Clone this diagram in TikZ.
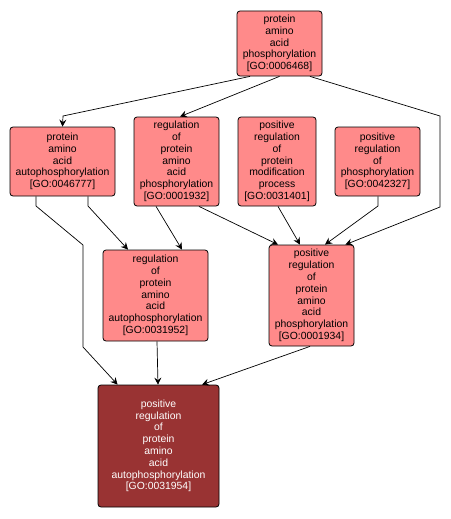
\documentclass[tikz,border=0pt]{standalone}
\usepackage{fontspec}
\setmainfont{Liberation Sans}
\usetikzlibrary{arrows.meta}
\definecolor{lightgo}{HTML}{FF8A8A}
\definecolor{darkgo}{HTML}{993333}
\begin{document}
\begin{tikzpicture}[x=1pt,y=1pt,
  gobox/.style={draw=black, line width=0.8pt, rounded corners=3pt, fill=lightgo,
    align=center, inner sep=0pt, font=\fontsize{10.4}{11.8}\selectfont, text=black},
  darkbox/.style={gobox, fill=darkgo, text=white},
  edge/.style={draw=black, line width=0.7pt, -{Stealth[length=7pt,width=7pt,inset=2.5pt]}}]
\useasboundingbox (0,0) rectangle (450,-519);
\node[gobox, minimum width=85, minimum height=65] (A) at (279.5,-43.5)
  {protein\\amino\\acid\\phosphorylation\\{[}GO:0006468{]}};
\node[gobox, minimum width=105, minimum height=69] (B) at (62.5,-161.5)
  {protein\\amino\\acid\\autophosphorylation\\{[}GO:0046777{]}};
\node[gobox, minimum width=85, minimum height=89] (C) at (176.5,-161.5)
  {regulation\\of\\protein\\amino\\acid\\phosphorylation\\{[}GO:0001932{]}};
\node[gobox, minimum width=78, minimum height=89] (D) at (277,-161.5)
  {positive\\regulation\\of\\protein\\modification\\process\\{[}GO:0031401{]}};
\node[gobox, minimum width=85, minimum height=69] (E) at (377.5,-161.5)
  {positive\\regulation\\of\\phosphorylation\\{[}GO:0042327{]}};
\node[gobox, minimum width=105, minimum height=91] (F) at (155.5,-295.5)
  {regulation\\of\\protein\\amino\\acid\\autophosphorylation\\{[}GO:0031952{]}};
\node[gobox, minimum width=85, minimum height=101] (G) at (311.5,-295.5)
  {positive\\regulation\\of\\protein\\amino\\acid\\phosphorylation\\{[}GO:0001934{]}};
\node[darkbox, minimum width=121, minimum height=122] (H) at (158.5,-446)
  {positive\\regulation\\of\\protein\\amino\\acid\\autophosphorylation\\{[}GO:0031954{]}};
% bend coordinates
\coordinate (ab1) at (63,-116);
\coordinate (ag1) at (440,-116);
\coordinate (ag2) at (440,-207);
\coordinate (bh1) at (36,-206);
\coordinate (bh2) at (83,-245);
\coordinate (bh3) at (83,-347);
\coordinate (bf1) at (88,-206);
\coordinate (eg1) at (378,-206);
% edges
\draw[edge] ([xshift=-29.5]A.south) -- (ab1) -- (B.north);
\draw[edge] (A.south) -- ([xshift=3.5]C.north);
\draw[edge] ([xshift=30.5]A.south) -- (ag1) -- (ag2) -- ([xshift=-9]G.north east);
\draw[edge] ([xshift=-26.5]B.south) -- (bh1) -- (bh2) -- (bh3) -- ([xshift=20]H.north west);
\draw[edge] ([xshift=25.5]B.south) -- (bf1) -- ([xshift=-27.5]F.north);
\draw[edge] ([xshift=-20.5]C.south) -- ([xshift=26.5]F.north);
\draw[edge] ([xshift=22.5]C.south) -- ([xshift=-33.5]G.north);
\draw[edge] ([xshift=1]D.south) -- ([xshift=-11.5]G.north);
\draw[edge] ([xshift=0.5]E.south) -- (eg1) -- ([xshift=13.5]G.north);
\draw[edge] ([xshift=1.5]F.south) -- ([xshift=-0.5]H.north);
\draw[edge] ([xshift=-1.5]G.south) -- ([xshift=43.5]H.north);
\end{tikzpicture}
\end{document}
